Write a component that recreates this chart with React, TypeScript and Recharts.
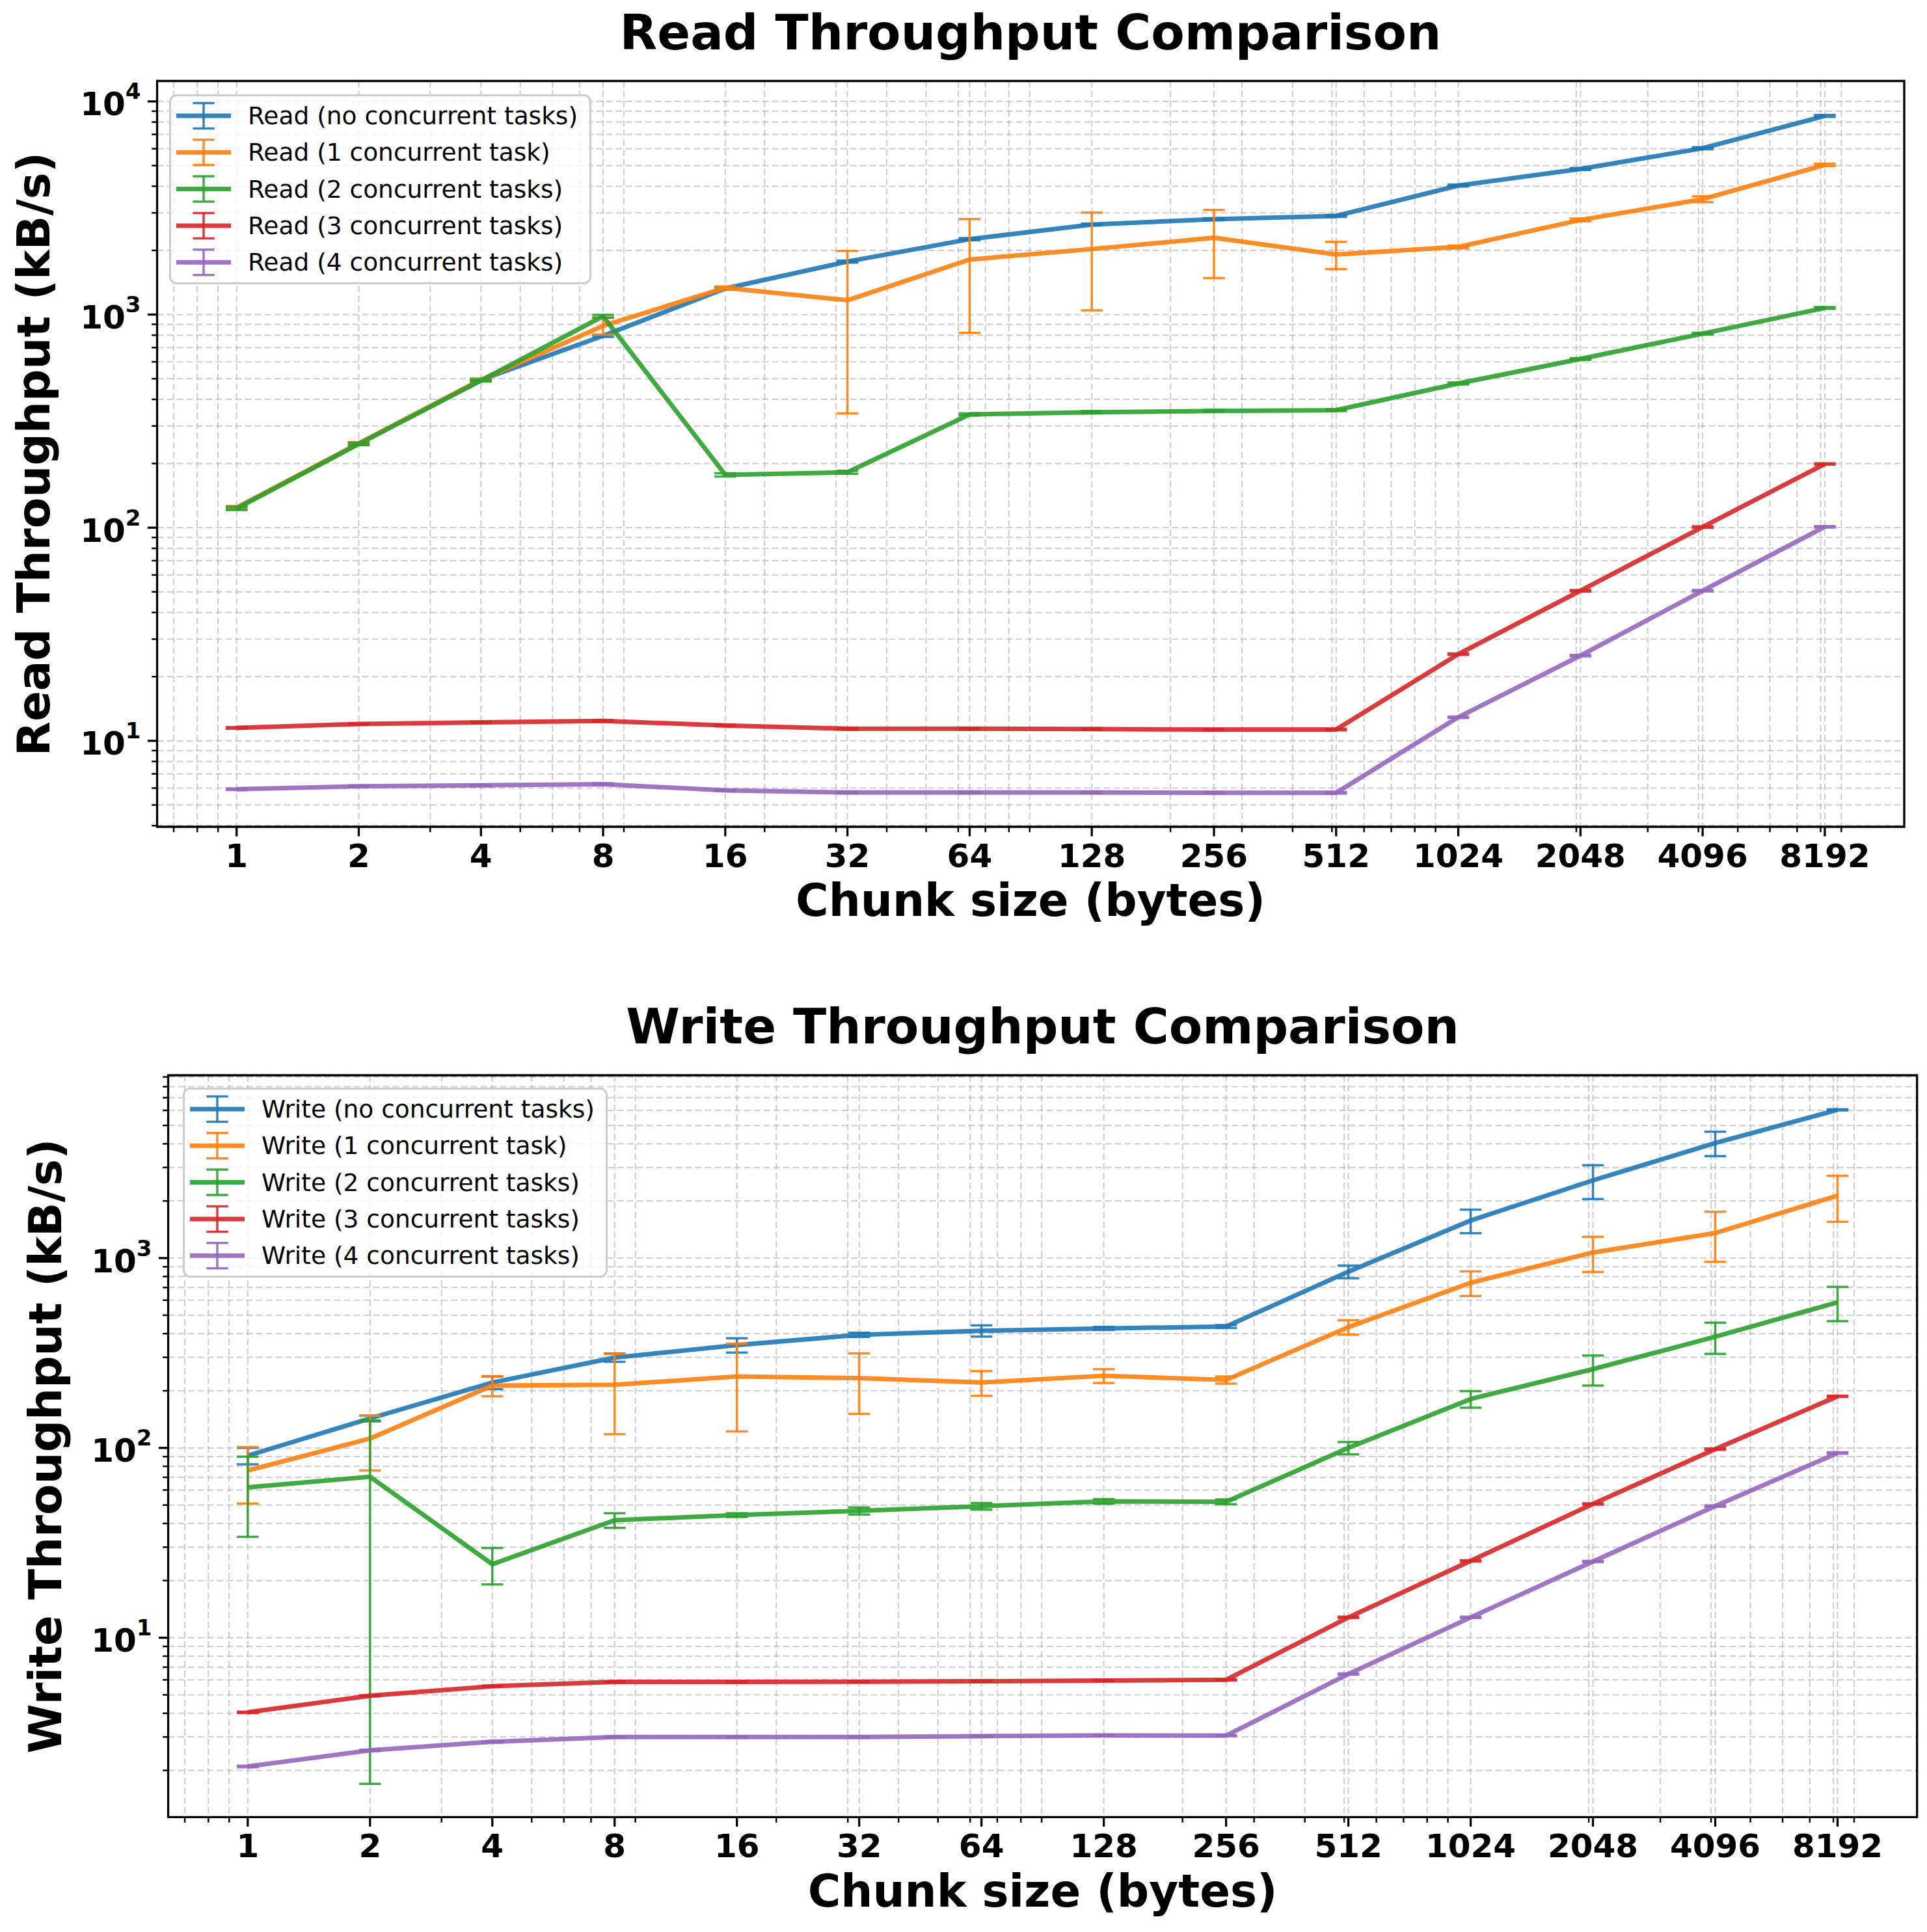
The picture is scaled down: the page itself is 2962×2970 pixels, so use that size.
import React from 'react';
import { LineChart, Line, XAxis, YAxis, CartesianGrid, ErrorBar, ReferenceArea, Legend } from 'recharts';

const FONT = '"DejaVu Sans", Verdana, sans-serif';
const COLORS = ['#1f77b4', '#ff7f0e', '#2ca02c', '#d62728', '#9467bd'];

// ---- categories / ticks ----
const chunkSizes = [1, 2, 4, 8, 16, 32, 64, 128, 256, 512, 1024, 2048, 4096, 8192];
const chunkLabels = ['1', '2', '4', '8', '16', '32', '64', '128', '256', '512', '1024', '2048', '4096', '8192'];
const xMinorTicks = [0.7, 0.8, 0.9, 3, 5, 6, 7, 9, 20, 30, 40, 50, 60, 70, 80, 90, 200, 300, 400, 500, 600, 700, 800, 900, 2000, 3000, 4000, 5000, 6000, 7000, 8000, 9000];
const xDomain = [0.637, 12856];

const readYMajor = [10, 100, 1000, 10000];
const readYMinor = [4, 5, 6, 7, 8, 9, 20, 30, 40, 50, 60, 70, 80, 90, 200, 300, 400, 500, 600, 700, 800, 900, 2000, 3000, 4000, 5000, 6000, 7000, 8000, 9000];
const readYDomain = [3.95, 12470];

const writeYMajor = [10, 100, 1000];
const writeYMinor = [2, 3, 4, 5, 6, 7, 8, 9, 20, 30, 40, 50, 60, 70, 80, 90, 200, 300, 400, 500, 600, 700, 800, 900, 2000, 3000, 4000, 5000, 6000, 7000, 8000, 9000];
const writeYDomain = [1.135, 9183];

const readNames = ['Read (no concurrent tasks)', 'Read (1 concurrent task)', 'Read (2 concurrent tasks)', 'Read (3 concurrent tasks)', 'Read (4 concurrent tasks)'];
const writeNames = ['Write (no concurrent tasks)', 'Write (1 concurrent task)', 'Write (2 concurrent tasks)', 'Write (3 concurrent tasks)', 'Write (4 concurrent tasks)'];

// ---- read series (kB/s) ----
const readNone = [124, 248, 494, 795, 1325, 1772, 2258, 2644, 2801, 2903, 4029, 4820, 6030, 8550];
const readNoneErr = [2, 4, 6, 10, 15, 20, 25, 25, 30, 30, 40, 50, 70, 90];
const readOne = [124, 248, 494, 885, 1335, 1167, 1812, 2029, 2291, 1914, 2076, 2779, 3477, 5035];
const readOneErr = [2, 4, 6, 80, 20, 823, 992, 981, 807, 280, 30, 40, 110, 60];
const readTwo = [123, 247, 490, 982, 177, 182, 340, 348, 353, 356, 475, 619, 814, 1074];
const readTwoErr = [2, 3, 5, 15, 3, 3, 4, 4, 4, 4, 5, 6, 8, 10];
const readThree = [11.5, 12.0, 12.2, 12.4, 11.8, 11.4, 11.4, 11.35, 11.3, 11.3, 25.5, 50.6, 100.8, 199];
const readThreeErr = [0.1, 0.1, 0.1, 0.1, 0.1, 0.1, 0.1, 0.1, 0.1, 0.1, 0.2, 0.4, 0.8, 1.5];
const readFour = [5.93, 6.12, 6.18, 6.26, 5.85, 5.72, 5.72, 5.72, 5.7, 5.7, 12.9, 25.1, 50.6, 100.9];
const readFourErr = [0.05, 0.05, 0.05, 0.05, 0.05, 0.05, 0.05, 0.05, 0.05, 0.05, 0.1, 0.2, 0.4, 0.8];

// ---- write series (kB/s) ----
const writeNone = [91, 143, 221, 299, 348, 394, 414, 426, 436, 848, 1577, 2567, 4037, 6040];
const writeNoneErr = [9, 5, 17, 15, 30, 10, 28, 8, 8, 65, 225, 520, 595, 40];
const writeOne = [76, 112, 213, 215, 238, 233, 221, 240, 228, 433, 741, 1070, 1355, 2133];
const writeOneErr = [25, 36, 26, 97, 116, 82, 33, 20, 10, 38, 110, 225, 400, 580];
const writeTwo = [62, 70.5, 24.4, 41.6, 44.3, 46.6, 49.3, 52.3, 52, 100, 181, 260, 385, 585];
const writeTwoErr = [28, 68.8, 5.3, 3.7, 1, 2, 2, 1.5, 1.5, 7.5, 18, 47, 72, 120];
const writeThree = [4.05, 4.95, 5.55, 5.85, 5.85, 5.87, 5.9, 5.95, 6.0, 12.8, 25.4, 50.7, 98.5, 187];
const writeThreeErr = [0.03, 0.03, 0.04, 0.04, 0.04, 0.04, 0.04, 0.04, 0.04, 0.1, 0.2, 0.4, 0.8, 1.5];
const writeFour = [2.1, 2.55, 2.83, 3.0, 3.0, 3.0, 3.03, 3.06, 3.05, 6.44, 12.8, 25.2, 49.4, 94];
const writeFourErr = [0.02, 0.02, 0.02, 0.02, 0.02, 0.02, 0.02, 0.02, 0.02, 0.05, 0.1, 0.2, 0.4, 0.8];

function buildRows(series: number[][], errs: number[][]) {
  return chunkSizes.map((c, i) => {
    const row: any = { chunk: c };
    series.forEach((s, k) => {
      row['s' + k] = s[i];
      row['e' + k] = errs[k][i];
    });
    return row;
  });
}

const readRows = buildRows([readNone, readOne, readTwo, readThree, readFour], [readNoneErr, readOneErr, readTwoErr, readThreeErr, readFourErr]);
const writeRows = buildRows([writeNone, writeOne, writeTwo, writeThree, writeFour], [writeNoneErr, writeOneErr, writeTwoErr, writeThreeErr, writeFourErr]);

const sortNum = (a: number[]) => [...a].sort((p, q) => p - q);

const LINE_W = 7;

const XTick = (props: any) => {
  const { x, payload, plotBottom } = props;
  const v = payload.value;
  const idx = chunkSizes.indexOf(v);
  const major = idx >= 0;
  return (
    <g>
      <line x1={x} x2={x} y1={plotBottom} y2={plotBottom + (major ? 14.6 : 8.3)} stroke="#000" strokeWidth={major ? 3.3 : 2.5} />
      {major && (
        <text x={x} y={plotBottom + 62} textAnchor="middle" fontFamily={FONT} fontWeight="bold" fontSize={50} fill="#000">
          {chunkLabels[idx]}
        </text>
      )}
    </g>
  );
};

const YTick = (props: any) => {
  const { y, payload, plotLeft, majors } = props;
  const v = payload.value;
  const major = majors.indexOf(v) >= 0;
  const exp = Math.round(Math.log10(v));
  return (
    <g>
      <line x1={plotLeft} x2={plotLeft - (major ? 14.6 : 8.3)} y1={y} y2={y} stroke="#000" strokeWidth={major ? 3.3 : 2.5} />
      {major && (
        <text x={plotLeft - 25} y={y + 21.5} textAnchor="end" fontFamily={FONT} fontWeight="bold" fontSize={50} fill="#000">
          <tspan>10</tspan>
          <tspan fontSize={34} dy={-25}>{String(exp)}</tspan>
        </text>
      )}
    </g>
  );
};

const LegendBox = ({ names, width }: { names: string[]; width: number }) => (
  <svg width={width} height={292} style={{ display: 'block', overflow: 'visible' }}>
    <rect x={1.5} y={1.5} width={width - 3} height={289} rx={10} ry={10} fill="#ffffff" fillOpacity={0.8} stroke="#cccccc" strokeWidth={3} />
    {names.map((n, i) => {
      const cy = 33 + i * 56.3;
      const c = COLORS[i];
      return (
        <g key={n}>
          <line x1={11} x2={95} y1={cy} y2={cy} stroke={c} strokeOpacity={0.9} strokeWidth={LINE_W} />
          <line x1={53} x2={53} y1={cy - 19.5} y2={cy + 19.5} stroke={c} strokeOpacity={0.9} strokeWidth={3.5} />
          <line x1={53 - 16.7} x2={53 + 16.7} y1={cy - 19.5} y2={cy - 19.5} stroke={c} strokeOpacity={0.9} strokeWidth={3.5} />
          <line x1={53 - 16.7} x2={53 + 16.7} y1={cy + 19.5} y2={cy + 19.5} stroke={c} strokeOpacity={0.9} strokeWidth={3.5} />
          <text x={121} y={cy + 13} fontFamily={FONT} fontSize={37.5} fill="#000">{n}</text>
        </g>
      );
    })}
  </svg>
);

type ChartProps = {
  rows: any[];
  names: string[];
  yDomain: number[];
  yMajor: number[];
  yMinor: number[];
  width: number;
  height: number;
  margin: { top: number; right: number; bottom: number; left: number };
  yAxisWidth: number;
  legendLeft: number;
  legendTop: number;
  legendWidth: number;
};

function ThroughputChart(p: ChartProps) {
  const plotLeft = p.margin.left + p.yAxisWidth;
  const plotBottom = p.height - p.margin.bottom - 170;
  const yTicks = sortNum([...p.yMajor, ...p.yMinor]);
  const xTicks = sortNum([...chunkSizes, ...xMinorTicks]);
  return (
    <LineChart width={p.width} height={p.height} data={p.rows} margin={p.margin}>
      <CartesianGrid stroke="#b0b0b0" strokeOpacity={0.6} strokeWidth={2.2} strokeDasharray="10 5" syncWithTicks />
      <XAxis
        dataKey="chunk"
        type="number"
        scale="log"
        domain={xDomain}
        allowDataOverflow
        ticks={xTicks}
        interval={0}
        height={170}
        tickLine={false}
        axisLine={false}
        tick={(tp: any) => <XTick {...tp} plotBottom={plotBottom} />}
      />
      <YAxis
        type="number"
        scale="log"
        domain={p.yDomain}
        allowDataOverflow
        ticks={yTicks}
        interval={0}
        width={p.yAxisWidth}
        tickLine={false}
        axisLine={false}
        tick={(tp: any) => <YTick {...tp} plotLeft={plotLeft} majors={p.yMajor} />}
      />
      {p.names.map((n, k) => (
        <Line
          key={n}
          name={n}
          type="linear"
          dataKey={'s' + k}
          stroke={COLORS[k]}
          strokeOpacity={0.9}
          strokeWidth={LINE_W}
          strokeLinejoin="round"
          dot={false}
          activeDot={false}
          isAnimationActive={false}
        >
          <ErrorBar dataKey={'e' + k} direction="y" width={16.7} stroke={COLORS[k]} strokeOpacity={0.9} strokeWidth={3.5} isAnimationActive={false} />
        </Line>
      ))}
      <ReferenceArea
        x1={xDomain[0]}
        x2={xDomain[1]}
        y1={p.yDomain[0]}
        y2={p.yDomain[1]}
        fill="none"
        fillOpacity={0}
        stroke="#000"
        strokeWidth={3.3}
        ifOverflow="visible"
      />
      <Legend
        layout="vertical"
        align="center"
        verticalAlign="middle"
        wrapperStyle={{ left: p.legendLeft, top: p.legendTop, width: p.legendWidth, height: 292, margin: 0 }}
        content={() => <LegendBox names={p.names} width={p.legendWidth} />}
      />
    </LineChart>
  );
}

export default function App() {
  return (
    <div style={{ position: 'absolute', left: 0, top: 0, width: 2962, height: 2970, background: '#fff', overflow: 'hidden' }}>
      <div style={{ position: 'absolute', left: 0, top: 0 }}>
        <ThroughputChart
          rows={readRows}
          names={readNames}
          yDomain={readYDomain}
          yMajor={readYMajor}
          yMinor={readYMinor}
          width={2962}
          height={1450}
          margin={{ top: 124.5, right: 35, bottom: 9, left: 0 }}
          yAxisWidth={241.5}
          legendLeft={260}
          legendTop={145}
          legendWidth={649}
        />
      </div>
      <div style={{ position: 'absolute', left: 0, top: 1450 }}>
        <ThroughputChart
          rows={writeRows}
          names={writeNames}
          yDomain={writeYDomain}
          yMajor={writeYMajor}
          yMinor={writeYMinor}
          width={2962}
          height={1520}
          margin={{ top: 203, right: 15.3, bottom: 6.6, left: 0 }}
          yAxisWidth={258.5}
          legendLeft={281}
          legendTop={222}
          legendWidth={653}
        />
      </div>
      <svg width={2962} height={2970} style={{ position: 'absolute', left: 0, top: 0, pointerEvents: 'none' }}>
        <text x={1584} y={76} textAnchor="middle" fontFamily={FONT} fontWeight="bold" fontSize={75} fill="#000">Read Throughput Comparison</text>
        <text x={1584} y={1408} textAnchor="middle" fontFamily={FONT} fontWeight="bold" fontSize={69} fill="#000">Chunk size (bytes)</text>
        <text transform="translate(76,698) rotate(-90)" textAnchor="middle" fontFamily={FONT} fontWeight="bold" fontSize={69} fill="#000">Read Throughput (kB/s)</text>
        <text x={1602.6} y={1604} textAnchor="middle" fontFamily={FONT} fontWeight="bold" fontSize={75} fill="#000">Write Throughput Comparison</text>
        <text x={1602.6} y={2931} textAnchor="middle" fontFamily={FONT} fontWeight="bold" fontSize={69} fill="#000">Chunk size (bytes)</text>
        <text transform="translate(93.5,2223) rotate(-90)" textAnchor="middle" fontFamily={FONT} fontWeight="bold" fontSize={69} fill="#000">Write Throughput (kB/s)</text>
      </svg>
    </div>
  );
}
